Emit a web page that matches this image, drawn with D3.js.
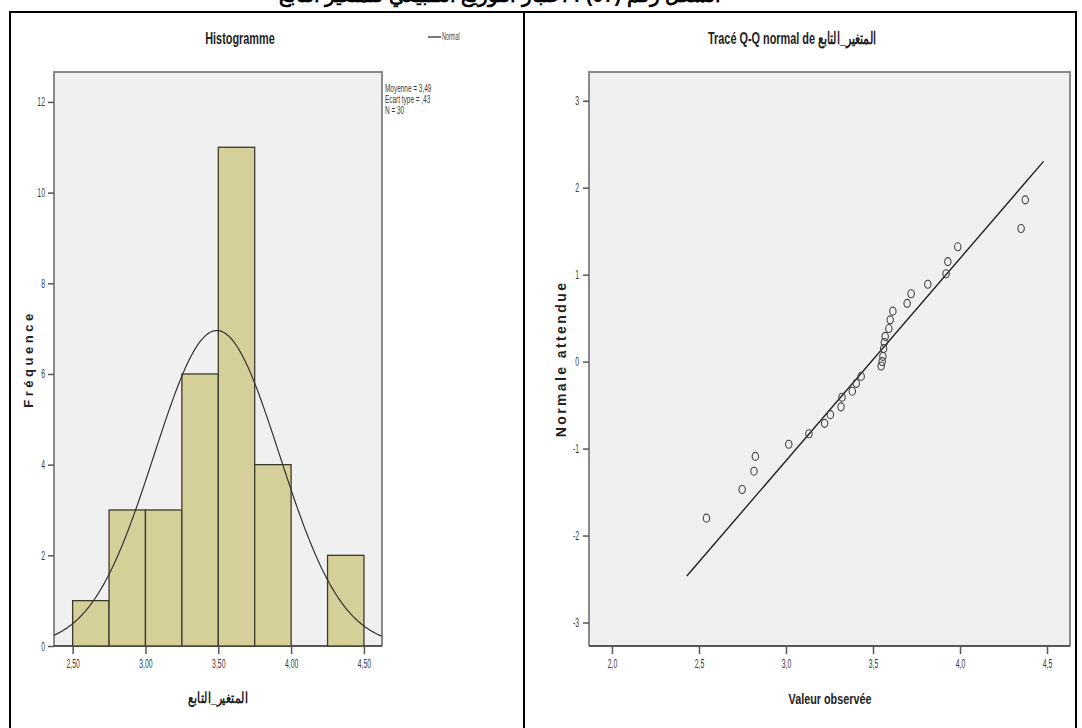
<!DOCTYPE html>
<html>
<head>
<meta charset="utf-8">
<script src="https://cdn.jsdelivr.net/npm/d3@7"></script>
<style>
  body { margin: 0; background: #fff; }
  svg { display: block; }
  text { font-family: "Liberation Sans", Arial, sans-serif; }
</style>
</head>
<body>
<div id="chart"></div>
<script>
// histogram data
var binEdges = [2.5, 2.75, 3.0, 3.25, 3.5, 3.75, 4.0, 4.25, 4.5];
var binCounts = [1, 3, 3, 6, 11, 4, 0, 2];
var histTicks = [2.5, 3.0, 3.5, 4.0, 4.5];
var histTickLabels = ["2,50", "3,00", "3,50", "4,00", "4,50"];
var freqTicks = [0, 2, 4, 6, 8, 10, 12];
var statLines = ["Moyenne = 3,49", "Ecart type = ,43", "N = 30"];
var mean = 3.49, sd = 0.43, n = 30, binWidth = 0.25;

// Q-Q data (observed value, expected normal value)
var qqObserved = [2.543, 2.748, 2.816, 2.824, 3.016, 3.132, 3.222, 3.255, 3.316, 3.322,
                  3.381, 3.404, 3.432, 3.547, 3.553, 3.557, 3.561, 3.565, 3.570, 3.591,
                  3.599, 3.614, 3.696, 3.719, 3.815, 3.920, 3.930, 3.987, 4.351, 4.375];
var qqExpected = [-1.80, -1.47, -1.26, -1.09, -0.95, -0.83, -0.71, -0.61, -0.52, -0.41,
                  -0.34, -0.25, -0.17, -0.05, 0.00, 0.06, 0.15, 0.22, 0.29, 0.38,
                  0.48, 0.58, 0.67, 0.78, 0.89, 1.01, 1.15, 1.32, 1.53, 1.86];
var qqLineRange = [2.43, 4.48];
var qqXTicks = [2.0, 2.5, 3.0, 3.5, 4.0, 4.5];
var qqXTickLabels = ["2,0", "2,5", "3,0", "3,5", "4,0", "4,5"];
var qqYTicks = [-3, -2, -1, 0, 1, 2, 3];
var qqYTickLabels = ["-3", "-2", "-1", "0", "1", "2", "3"];

var W = 1082, H = 728;
var svg = d3.select("#chart").append("svg").attr("width", W).attr("height", H);

// squeeze text horizontally to mimic the narrow SPSS font
function condense(sel, f) {
    sel.each(function () {
        var w = this.getComputedTextLength();
        d3.select(this).attr("textLength", w * f).attr("lengthAdjust", "spacingAndGlyphs");
    });
}

// heading cut off at the top of the page
svg.append("text")
    .attr("x", 500).attr("y", 2)
    .attr("text-anchor", "middle")
    .attr("direction", "rtl")
    .attr("font-family", "DejaVu Sans")
    .attr("font-weight", "bold")
    .attr("font-size", 20)
    .text("الشكل رقم (07) : اختبار التوزيع الطبيعي للمتغير التابع");

// table frame
var frame = svg.append("g").attr("stroke", "#000").attr("stroke-width", 2);
frame.append("line").attr("x1", 10).attr("x2", 1076).attr("y1", 12).attr("y2", 12);
frame.append("line").attr("x1", 10).attr("x2", 10).attr("y1", 11).attr("y2", H);
frame.append("line").attr("x1", 524).attr("x2", 524).attr("y1", 11).attr("y2", H);
frame.append("line").attr("x1", 1076).attr("x2", 1076).attr("y1", 11).attr("y2", H);

function plotBox(g, b) {
    g.append("rect").attr("x", b.left).attr("y", b.top)
        .attr("width", b.right - b.left).attr("height", b.bottom - b.top)
        .attr("fill", "#f0f0f0");
    g.append("path")
        .attr("d", "M" + b.left + "," + b.bottom + "V" + b.top + "H" + b.right + "V" + b.bottom)
        .attr("fill", "none").attr("stroke", "#8a8a8a").attr("stroke-width", 2);
    g.append("line").attr("x1", b.left).attr("x2", b.right)
        .attr("y1", b.bottom).attr("y2", b.bottom)
        .attr("stroke", "#222").attr("stroke-width", 1.5);
}

function styleAxis(sel) {
    sel.select(".domain").remove();
    sel.selectAll(".tick line").attr("stroke", "#555").attr("stroke-width", 1.5);
    sel.selectAll(".tick text")
        .attr("font-family", "Liberation Sans, Arial, sans-serif")
        .attr("font-size", 12.5)
        .attr("fill", "#3a3a3a")
        .call(condense, 0.55);
}

/* ---------- Histogram ---------- */
var hb = { left: 54, right: 382, top: 72, bottom: 646 };
var hx = d3.scaleLinear().domain([2.372, 4.624]).range([hb.left, hb.right]);
var hy = d3.scaleLinear().domain([0, 12.66]).range([hb.bottom, hb.top]);
var hg = svg.append("g");
plotBox(hg, hb);

var bins = binCounts.map(function (c, i) { return { x0: binEdges[i], x1: binEdges[i + 1], count: c }; });
hg.selectAll("rect.bar")
    .data(bins.filter(function (d) { return d.count > 0; }))
    .enter().append("rect")
    .attr("class", "bar")
    .attr("x", function (d) { return hx(d.x0); })
    .attr("width", function (d) { return hx(d.x1) - hx(d.x0); })
    .attr("y", function (d) { return hy(d.count); })
    .attr("height", function (d) { return hy(0) - hy(d.count); })
    .attr("fill", "#d5cf99")
    .attr("stroke", "#3c3a2c")
    .attr("stroke-width", 1.3);

// normal curve
var curveX = d3.range(hx.domain()[0], hx.domain()[1] + 0.001, 0.01);
var normalPdf = function (x) {
    return Math.exp(-0.5 * Math.pow((x - mean) / sd, 2)) / (sd * Math.sqrt(2 * Math.PI));
};
hg.append("path")
    .datum(curveX)
    .attr("d", d3.line()
        .x(function (d) { return hx(d); })
        .y(function (d) { return hy(n * binWidth * normalPdf(d)); }))
    .attr("fill", "none").attr("stroke", "#333").attr("stroke-width", 1.2);

var hxAxis = hg.append("g").attr("transform", "translate(0," + hb.bottom + ")")
    .call(d3.axisBottom(hx).tickValues(histTicks)
        .tickFormat(function (d, i) { return histTickLabels[i]; })
        .tickSize(8).tickPadding(5));
styleAxis(hxAxis);
var hyAxis = hg.append("g").attr("transform", "translate(" + hb.left + ",0)")
    .call(d3.axisLeft(hy).tickValues(freqTicks).tickSize(6).tickPadding(3));
styleAxis(hyAxis);

svg.append("text")
    .attr("x", 240).attr("y", 44).attr("text-anchor", "middle")
    .attr("font-size", 17).attr("font-weight", "bold").attr("fill", "#222")
    .text("Histogramme")
    .call(condense, 0.64);

// legend
svg.append("line").attr("x1", 428).attr("x2", 441).attr("y1", 37).attr("y2", 37)
    .attr("stroke", "#333").attr("stroke-width", 1.3);
svg.append("text")
    .attr("x", 442).attr("y", 40).attr("font-size", 10).attr("fill", "#444")
    .text("Normal")
    .call(condense, 0.55);

svg.append("g").selectAll("text")
    .data(statLines).enter().append("text")
    .attr("x", 385)
    .attr("y", function (d, i) { return 92 + i * 11; })
    .attr("font-size", 11.5).attr("fill", "#3a3a3a")
    .text(function (d) { return d; })
    .call(condense, 0.56);

svg.append("text")
    .attr("transform", "translate(33," + ((hb.top + hb.bottom) / 2) + ") rotate(-90)")
    .attr("text-anchor", "middle")
    .attr("font-weight", "bold").attr("font-size", 13)
    .attr("letter-spacing", 3.5).attr("fill", "#222")
    .text("Fréquence");

svg.append("text")
    .attr("x", 218).attr("y", 703).attr("text-anchor", "middle")
    .attr("font-family", "DejaVu Sans").attr("font-weight", "bold")
    .attr("font-size", 15).attr("fill", "#222")
    .text("المتغير_التابع")
    .call(condense, 0.72);

/* ---------- Q-Q plot ---------- */
var qb = { left: 589, right: 1070, top: 72, bottom: 646 };
var qx = d3.scaleLinear().domain([1.868, 4.632]).range([qb.left, qb.right]);
var qy = d3.scaleLinear().domain([-3.27, 3.33]).range([qb.bottom, qb.top]);
var qg = svg.append("g");
plotBox(qg, qb);

qg.append("path")
    .datum(qqLineRange)
    .attr("d", d3.line()
        .x(function (d) { return qx(d); })
        .y(function (d) { return qy((d - mean) / sd); }))
    .attr("stroke", "#222").attr("stroke-width", 1.4);

qg.selectAll("ellipse")
    .data(qqObserved.map(function (v, i) { return [v, qqExpected[i]]; }))
    .enter().append("ellipse")
    .attr("cx", function (d) { return qx(d[0]); })
    .attr("cy", function (d) { return qy(d[1]); })
    .attr("rx", 3.2).attr("ry", 4)
    .attr("fill", "none").attr("stroke", "#444").attr("stroke-width", 1.1);

var qxAxis = qg.append("g").attr("transform", "translate(0," + qb.bottom + ")")
    .call(d3.axisBottom(qx).tickValues(qqXTicks)
        .tickFormat(function (d, i) { return qqXTickLabels[i]; })
        .tickSize(8).tickPadding(5));
styleAxis(qxAxis);
var qyAxis = qg.append("g").attr("transform", "translate(" + qb.left + ",0)")
    .call(d3.axisLeft(qy).tickValues(qqYTicks)
        .tickFormat(function (d, i) { return qqYTickLabels[i]; })
        .tickSize(6).tickPadding(4));
styleAxis(qyAxis);

svg.append("text")
    .attr("x", 792).attr("y", 44).attr("text-anchor", "middle")
    .attr("font-size", 17).attr("font-weight", "bold").attr("fill", "#222")
    .text("Tracé Q-Q normal de المتغير_التابع")
    .call(condense, 0.64);

svg.append("text")
    .attr("transform", "translate(566," + ((qb.top + qb.bottom) / 2) + ") rotate(-90)")
    .attr("text-anchor", "middle")
    .attr("font-weight", "bold").attr("font-size", 14)
    .attr("letter-spacing", 2.4).attr("fill", "#222")
    .text("Normale attendue");

svg.append("text")
    .attr("x", 830).attr("y", 704).attr("text-anchor", "middle")
    .attr("font-weight", "bold").attr("font-size", 15).attr("fill", "#222")
    .text("Valeur observée")
    .call(condense, 0.72);
</script>
</body>
</html>
